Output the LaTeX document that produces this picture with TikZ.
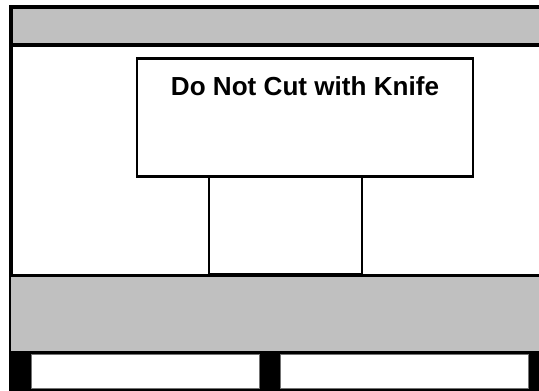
\documentclass[tikz,border=0pt]{standalone}
\usepackage{fontspec}
\setmainfont{Liberation Sans}
\usepackage{tikz}
\definecolor{panelgray}{RGB}{192,192,192}
\tikzset{
  panel/.style={draw=black, fill=panelgray, line width=2.2pt},
  outline/.style={draw=black, fill=white, line width=1.7pt},
  slot/.style={draw=black!55, fill=white, line width=0.5pt},
  label/.style={font=\fontsize{14.85}{17}\selectfont\bfseries, inner sep=0pt},
}

\begin{document}
\begin{tikzpicture}[x=0.02cm, y=-0.02cm]

\clip (0,0) rectangle (539,390);

% top strip
\draw[panel] (11,7) rectangle (560,45);
\draw[black, line width=2.2pt] (11,7) -- (11,400);

% lower strip and base
\fill[panelgray] (11,275.5) rectangle (560,351);
\draw[black, line width=1.7pt] (11,275.5) -- (560,275.5);
\fill[black] (11,351) rectangle (560,400);
\foreach \a/\b in {31/259, 280/528} {
  \draw[slot] (\a,354) rectangle (\b,388);
}

% label box and stem
\draw[outline] (137,58) rectangle (473,176.5);
\draw[outline] (209,176.5) rectangle (362,274.5);

\node[label, anchor=base] (warn) at (305,95) {Do Not Cut with Knife};

\end{tikzpicture}
\end{document}
